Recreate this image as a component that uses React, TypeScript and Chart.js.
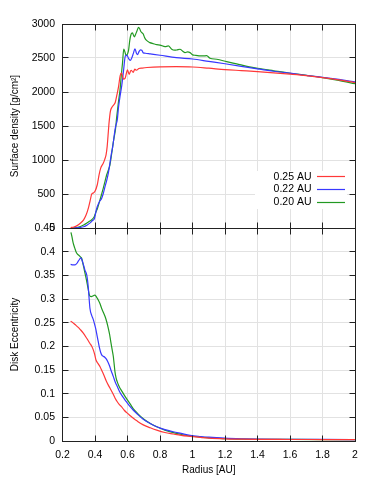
import React, { useEffect, useRef } from "react";
import { Chart, registerables } from "chart.js";

Chart.register(...registerables);

// ---------- axis ticks ----------
const radiusTicks = [0.2, 0.4, 0.6, 0.8, 1, 1.2, 1.4, 1.6, 1.8, 2];
const densityTicks = [0, 500, 1000, 1500, 2000, 2500, 3000];
const eccTicks = [0, 0.05, 0.1, 0.15, 0.2, 0.25, 0.3, 0.35, 0.4, 0.45];

// ---------- series ----------
const seriesLabels = ["0.25 AU", "0.22 AU", "0.20 AU"];
const seriesColors = ["#ff3838", "#3838ff", "#229922"];

// Surface density, 0.25 AU
const sigmaRadius25 = [0.25,0.27,0.29,0.31,0.33,0.345,0.36,0.37,0.38,0.39,0.40,0.414,0.425,0.435,0.45,0.46,0.468,0.475,0.48,0.487,0.495,0.503,0.515,0.525,0.535,0.545,0.555,0.564,0.575,0.585,0.6,0.61,0.622,0.635,0.645,0.655,0.67,0.69,0.72,0.8,0.9,1.0,1.1,1.2,1.3,1.4,1.5,1.6,1.7,1.8,1.9,2.0];
const sigma25 = [5,15,35,70,120,190,300,400,500,515,540,636,780,880,950,1010,1076,1200,1350,1560,1720,1770,1810,1850,1960,2080,2240,2280,2190,2200,2325,2260,2320,2290,2335,2320,2345,2352,2360,2370,2372,2368,2350,2330,2315,2300,2282,2262,2240,2212,2178,2138];

// Surface density, 0.22 AU
const sigmaRadius22 = [0.265,0.30,0.33,0.35,0.37,0.385,0.396,0.405,0.412,0.42,0.43,0.44,0.45,0.462,0.472,0.482,0.492,0.5,0.509,0.516,0.523,0.53,0.537,0.545,0.555,0.565,0.575,0.587,0.597,0.607,0.617,0.626,0.635,0.646,0.655,0.662,0.67,0.68,0.688,0.697,0.71,0.74,0.8,0.9,1.0,1.1,1.2,1.3,1.4,1.5,1.6,1.7,1.8,1.9,2.0];
const sigma22 = [0,5,18,40,75,110,135,230,300,350,400,430,500,611,700,807,954,1080,1198,1320,1443,1520,1590,1780,1950,2100,2300,2530,2540,2490,2465,2500,2560,2635,2570,2550,2590,2620,2615,2575,2570,2560,2540,2505,2485,2450,2415,2378,2340,2305,2278,2245,2217,2185,2150];

// Surface density, 0.20 AU
const sigmaRadius20 = [0.26,0.30,0.33,0.36,0.38,0.396,0.405,0.416,0.431,0.441,0.451,0.462,0.472,0.482,0.492,0.503,0.512,0.519,0.526,0.533,0.544,0.554,0.562,0.569,0.577,0.584,0.591,0.6,0.607,0.614,0.622,0.63,0.642,0.65,0.657,0.668,0.675,0.682,0.69,0.697,0.705,0.714,0.738,0.76,0.78,0.8,0.831,0.851,0.872,0.89,0.903,0.923,0.94,0.954,0.97,0.985,1.001,1.02,1.046,1.065,1.087,1.108,1.149,1.21,1.272,1.35,1.4,1.5,1.6,1.7,1.8,1.9,2.0];
const sigma20 = [0,15,45,90,122,170,230,294,415,500,587,690,783,850,930,1101,1250,1350,1450,1620,1850,2031,2250,2420,2630,2590,2540,2560,2620,2760,2850,2870,2810,2850,2890,2950,2930,2890,2870,2853,2800,2765,2726,2710,2696,2690,2667,2677,2629,2615,2618,2629,2600,2579,2590,2579,2545,2540,2530,2530,2535,2496,2482,2447,2413,2370,2349,2312,2276,2245,2212,2172,2122];

// Eccentricity, 0.25 AU
const eccRadius25 = [0.25,0.26,0.277,0.297,0.308,0.328,0.349,0.369,0.38,0.39,0.398,0.406,0.42,0.431,0.443,0.455,0.468,0.482,0.495,0.509,0.523,0.537,0.55,0.564,0.58,0.595,0.615,0.636,0.66,0.697,0.74,0.78,0.83,0.882,0.93,0.985,1.05,1.1,1.2,1.3,1.4,1.6,1.8,2.0];
const ecc25 = [0.253,0.251,0.246,0.24,0.236,0.228,0.217,0.206,0.2,0.192,0.183,0.171,0.163,0.157,0.148,0.139,0.128,0.118,0.11,0.101,0.091,0.083,0.077,0.072,0.065,0.06,0.054,0.048,0.042,0.034,0.028,0.023,0.018,0.0148,0.012,0.0098,0.0075,0.006,0.0045,0.0038,0.0034,0.0032,0.0031,0.003];

// Eccentricity, 0.22 AU
const eccRadius22 = [0.25,0.265,0.277,0.29,0.297,0.305,0.312,0.318,0.324,0.331,0.338,0.349,0.354,0.359,0.364,0.369,0.38,0.39,0.398,0.406,0.413,0.42,0.428,0.435,0.443,0.451,0.46,0.468,0.478,0.488,0.5,0.513,0.525,0.537,0.55,0.564,0.58,0.595,0.615,0.636,0.66,0.697,0.74,0.78,0.83,0.882,0.93,0.985,1.05,1.1,1.2,1.3,1.4,1.6,1.8,2.0];
const ecc22 = [0.373,0.372,0.372,0.376,0.38,0.384,0.387,0.384,0.378,0.37,0.361,0.351,0.34,0.323,0.3,0.28,0.265,0.256,0.246,0.235,0.222,0.21,0.196,0.187,0.181,0.179,0.177,0.174,0.168,0.16,0.148,0.136,0.124,0.115,0.105,0.097,0.089,0.082,0.073,0.065,0.057,0.046,0.037,0.03,0.024,0.0195,0.016,0.012,0.0095,0.008,0.006,0.0048,0.004,0.0035,0.0033,0.003];

// Eccentricity, 0.20 AU
const eccRadius20 = [0.252,0.259,0.266,0.275,0.283,0.292,0.302,0.31,0.318,0.325,0.332,0.338,0.345,0.352,0.359,0.364,0.369,0.378,0.39,0.398,0.406,0.413,0.42,0.431,0.441,0.451,0.462,0.472,0.482,0.49,0.497,0.505,0.513,0.518,0.523,0.53,0.537,0.55,0.564,0.58,0.595,0.615,0.636,0.66,0.697,0.74,0.78,0.83,0.882,0.93,0.985,1.05,1.1,1.2,1.3,1.4,1.6,1.8,2.0];
const ecc20 = [0.441,0.43,0.418,0.408,0.4,0.395,0.392,0.389,0.386,0.376,0.365,0.355,0.344,0.332,0.319,0.31,0.306,0.305,0.307,0.308,0.306,0.302,0.298,0.29,0.28,0.272,0.263,0.252,0.238,0.225,0.21,0.194,0.178,0.162,0.146,0.133,0.125,0.114,0.106,0.097,0.089,0.079,0.068,0.059,0.047,0.037,0.03,0.023,0.0176,0.014,0.0105,0.008,0.0068,0.0048,0.004,0.0035,0.0033,0.0031,0.003];

// ---------- styling ----------
const FONT = "'Liberation Sans', Arial, Helvetica, sans-serif";
const FONT_SIZE = 10;
const GRID = "#e2e2e2";
const FRAME = "#222222";
const TICK_LEN = 6;

const pairs = (xs: number[], ys: number[]) => xs.map((x, i) => ({ x, y: ys[i] }));
const align = (p: number) => Math.round(p - 0.5) + 0.5;

const framePlugin = (xTicks: number[], yTicks: number[]) => ({
  id: "frame",
  afterDraw(chart: any) {
    const { ctx, chartArea, scales } = chart;
    const L = align(chartArea.left);
    const R = align(chartArea.right);
    const T = align(chartArea.top);
    const B = align(chartArea.bottom);
    ctx.save();
    ctx.strokeStyle = FRAME;
    ctx.lineWidth = 1;
    ctx.beginPath();
    for (const v of xTicks) {
      const px = align(scales.x.getPixelForValue(v));
      ctx.moveTo(px, T);
      ctx.lineTo(px, T + TICK_LEN);
      ctx.moveTo(px, B);
      ctx.lineTo(px, B - TICK_LEN);
    }
    for (const v of yTicks) {
      const py = align(scales.y.getPixelForValue(v));
      ctx.moveTo(L, py);
      ctx.lineTo(L + TICK_LEN, py);
      ctx.moveTo(R, py);
      ctx.lineTo(R - TICK_LEN, py);
    }
    ctx.stroke();
    ctx.strokeRect(L, T, R - L, B - T);
    ctx.restore();
  },
});

const keyPlugin = {
  id: "key",
  beforeDatasetsDraw(chart: any) {
    const { ctx, chartArea } = chart;
    const right = chartArea.right;
    const bottom = chartArea.bottom;
    ctx.save();
    ctx.fillStyle = "#ffffff";
    ctx.fillRect(right - 100, bottom - 57, 92, 38);
    ctx.font = `10.5px ${FONT}`;
    ctx.textAlign = "right";
    ctx.textBaseline = "middle";
    seriesLabels.forEach((label, i) => {
      const y = bottom - 51.3 + i * 12.9;
      ctx.fillStyle = "#000000";
      ctx.fillText(label, right - 43.5, y);
      ctx.strokeStyle = seriesColors[i];
      ctx.lineWidth = 1.2;
      ctx.beginPath();
      ctx.moveTo(right - 38, align(y));
      ctx.lineTo(right - 10, align(y));
      ctx.stroke();
    });
    ctx.restore();
  },
};

const fontObj = { family: FONT, size: FONT_SIZE };

function makeDatasets(xs: number[][], ys: number[][]) {
  return xs.map((x, i) => ({
    label: seriesLabels[i],
    data: pairs(x, ys[i]),
    borderColor: seriesColors[i],
    backgroundColor: seriesColors[i],
    borderWidth: 1.2,
    pointRadius: 0,
    fill: false,
    cubicInterpolationMode: "monotone" as const,
  }));
}

function xScale(showLabels: boolean) {
  return {
    type: "linear" as const,
    min: 0.2,
    max: 2,
    afterBuildTicks: (s: any) => {
      s.ticks = radiusTicks.map((v) => ({ value: v }));
    },
    afterFit: (s: any) => {
      s.height = showLabels ? 45 : 0;
    },
    ticks: {
      display: showLabels,
      padding: 7.5,
      color: "#000",
      font: { family: FONT, size: 10.5 },
      maxRotation: 0,
      autoSkip: false,
      callback: (v: any) => String(v),
    },
    grid: { color: GRID, drawTicks: false, lineWidth: 1 },
    border: { display: false },
    title: {
      display: showLabels,
      text: "Radius [AU]",
      color: "#000",
      font: fontObj,
      padding: { top: 0, bottom: 9.7 },
    },
  };
}

function yScale(ticksArr: number[], max: number, title: string) {
  return {
    type: "linear" as const,
    min: 0,
    max,
    afterBuildTicks: (s: any) => {
      s.ticks = ticksArr.map((v) => ({ value: v }));
    },
    afterFit: (s: any) => {
      s.width = 62.5;
    },
    ticks: {
      padding: 7.5,
      color: "#000",
      font: { family: FONT, size: 10.5 },
      autoSkip: false,
      callback: (v: any) => String(v),
    },
    grid: { color: GRID, drawTicks: false, lineWidth: 1 },
    border: { display: false },
    title: {
      display: true,
      text: title,
      color: "#000",
      font: fontObj,
      padding: { top: 9.5, bottom: 0 },
    },
  };
}

export default function App() {
  const topRef = useRef<HTMLCanvasElement>(null);
  const botRef = useRef<HTMLCanvasElement>(null);

  useEffect(() => {
    Chart.defaults.font.family = FONT;
    Chart.defaults.color = "#000";
    const top = new Chart(topRef.current!, {
      type: "line",
      data: {
        datasets: makeDatasets(
          [sigmaRadius25, sigmaRadius22, sigmaRadius20],
          [sigma25, sigma22, sigma20]
        ),
      },
      options: {
        responsive: false,
        animation: false,
        devicePixelRatio: 1,
        layout: { padding: { top: 24, right: 19, bottom: 22, left: 0 } },
        plugins: { legend: { display: false }, tooltip: { enabled: false } },
        scales: {
          x: xScale(false),
          y: yScale(densityTicks, 3000, "Surface density [g/cm²]"),
        },
      } as any,
      plugins: [keyPlugin, framePlugin(radiusTicks, densityTicks)],
    });
    const bot = new Chart(botRef.current!, {
      type: "line",
      data: {
        datasets: makeDatasets(
          [eccRadius25, eccRadius22, eccRadius20],
          [ecc25, ecc22, ecc20]
        ),
      },
      options: {
        responsive: false,
        animation: false,
        devicePixelRatio: 1,
        layout: { padding: { top: 28, right: 19, bottom: 0, left: 0 } },
        plugins: { legend: { display: false }, tooltip: { enabled: false } },
        scales: {
          x: xScale(true),
          y: yScale(eccTicks, 0.45, "Disk Eccentricity"),
        },
      } as any,
      plugins: [framePlugin(radiusTicks, eccTicks)],
    });
    return () => {
      top.destroy();
      bot.destroy();
    };
  }, []);

  return (
    <div
      style={{
        position: "absolute",
        left: 0,
        top: 0,
        width: 374,
        height: 486,
        background: "#fff",
        overflow: "hidden",
      }}
    >
      <canvas
        ref={botRef}
        width={374}
        height={286}
        style={{ position: "absolute", left: 0, top: 200, width: 374, height: 286 }}
      />
      <canvas
        ref={topRef}
        width={374}
        height={250}
        style={{ position: "absolute", left: 0, top: 0, width: 374, height: 250 }}
      />
    </div>
  );
}
